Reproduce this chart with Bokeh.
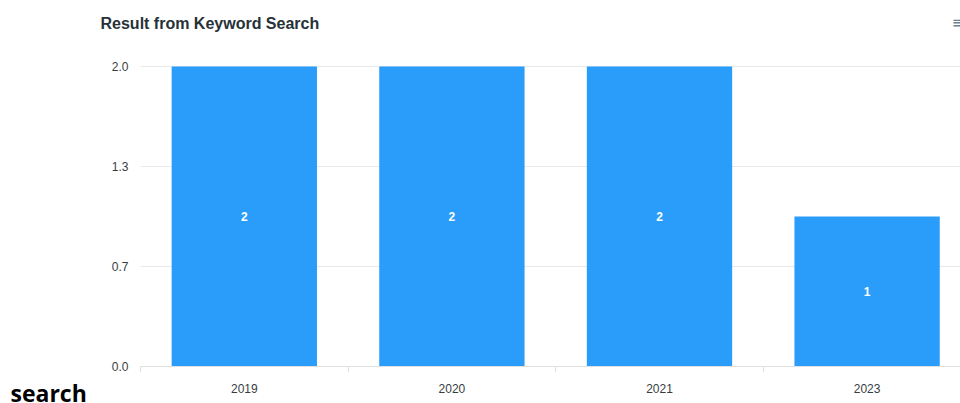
from bokeh.plotting import figure
from bokeh.models import Range1d, FixedTicker, Label, LabelSet, ColumnDataSource
from bokeh.core.properties import value
from bokeh.embed import file_html
from bokeh.resources import INLINE

years = ["2019", "2020", "2021", "2023"]
counts = [2, 2, 2, 1]
y_ticks = [0.0, 0.6667, 1.3333, 2.0]
y_tick_labels = ["0.0", "0.7", "1.3", "2.0"]
chart_title = "Result from Keyword Search"
caption = "search"

W, H = 960, 403
idx = list(range(len(years)))

# frame covers the whole canvas; axes are drawn at fixed data locations
p = figure(width=W, height=H, output_backend="svg", toolbar_location=None,
           x_range=Range1d(-1.1744, 3.4499), y_range=Range1d(-0.24667, 2.44),
           min_border=0)
p.outline_line_color = None
p.background_fill_color = "white"
p.border_fill_color = "white"
p.xgrid.grid_line_color = None
p.ygrid.grid_line_color = None

band_lo = -0.5

# y axis (its inward ticks serve as the horizontal grid lines)
ya = p.yaxis[0]
ya.fixed_location = band_lo
ya.ticker = FixedTicker(ticks=y_ticks)
ya.major_label_overrides = {t: l for t, l in zip(y_ticks, y_tick_labels)}
ya.axis_line_color = None
ya.major_tick_line_color = "#e8e8e8"
ya.minor_tick_line_color = None
ya.major_tick_out = 0
ya.major_tick_in = 830
ya.major_label_standoff = 12
ya.major_label_text_font = "Liberation Sans"
ya.major_label_text_font_size = "12px"
ya.major_label_text_color = "#373d3f"
ya.level = "underlay"

src = ColumnDataSource(dict(x=idx, top=counts, mid=[c / 2 for c in counts],
                            lab=[str(c) for c in counts]))
p.vbar(x="x", top="top", width=0.7, source=src, fill_color="#2A9DFB", line_color=None)

p.add_layout(LabelSet(x="x", y="mid", text="lab", source=src, text_align="center",
                      text_baseline="middle", text_color="white", text_font_style="bold",
                      text_font_size="12px", text_font=value("Liberation Sans")))

# x axis
xa = p.xaxis[0]
xa.fixed_location = 0
xa.bounds = (band_lo, 3.4499)
xa.ticker = FixedTicker(ticks=idx, minor_ticks=[i - 0.5 for i in idx])
xa.major_label_overrides = {i: y for i, y in zip(idx, years)}
xa.major_tick_out = 0
xa.major_tick_in = 0
xa.minor_tick_out = 6
xa.minor_tick_in = 0
xa.minor_tick_line_color = "#e0e0e0"
xa.axis_line_color = "#e0e0e0"
xa.major_label_standoff = 12
xa.major_label_text_font = "Liberation Sans"
xa.major_label_text_font_size = "12px"
xa.major_label_text_color = "#373d3f"

# screen units: measured from bottom-left of the frame (= whole canvas here)
p.add_layout(Label(x=100, y=H - 23, x_units="screen", y_units="screen", text=chart_title,
                   text_font="Liberation Sans", text_font_style="bold", text_font_size="16px",
                   text_color="#263238", text_baseline="middle"))
p.add_layout(Label(x=951, y=H - 22, x_units="screen", y_units="screen", text="\u2261",
                   text_font="DejaVu Sans", text_font_size="16px",
                   text_color="#6E8192", text_baseline="middle"))
p.add_layout(Label(x=10, y=-5, x_units="screen", y_units="screen", text=caption,
                   text_font="Open Sans", text_font_style="bold", text_font_size="23px",
                   text_color="black", text_baseline="bottom"))

open("out.html", "w").write(file_html(p, INLINE))
